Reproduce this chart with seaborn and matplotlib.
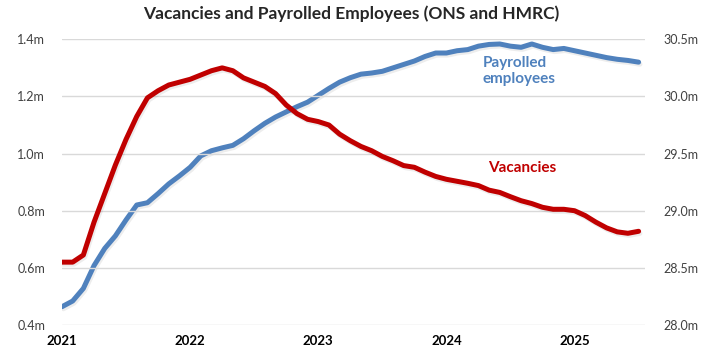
import pandas as pd
import matplotlib.pyplot as plt
import matplotlib.patheffects as pe
import seaborn as sns
import numpy as np

# Monthly data, Jan 2021 - Jul 2025
vacancies_m = [0.62, 0.62, 0.645, 0.76, 0.86, 0.96, 1.05, 1.13, 1.195, 1.22,
               1.24, 1.25, 1.26, 1.275, 1.29, 1.30, 1.29, 1.265, 1.25, 1.235,
               1.21, 1.17, 1.14, 1.12, 1.112, 1.10, 1.068, 1.045, 1.025, 1.01,
               0.99, 0.975, 0.958, 0.952, 0.935, 0.92, 0.91, 0.903, 0.896, 0.888,
               0.872, 0.864, 0.849, 0.835, 0.825, 0.812, 0.805, 0.805, 0.80, 0.783,
               0.76, 0.74, 0.726, 0.721, 0.728]
payrolled_m = [28.16, 28.21, 28.32, 28.52, 28.67, 28.78, 28.92, 29.05, 29.07, 29.15,
               29.235, 29.305, 29.38, 29.48, 29.525, 29.55, 29.572, 29.63, 29.70, 29.765,
               29.82, 29.865, 29.91, 29.95, 30.01, 30.07, 30.125, 30.164, 30.195, 30.205,
               30.22, 30.25, 30.28, 30.31, 30.35, 30.38, 30.38, 30.40, 30.41, 30.44,
               30.455, 30.459, 30.44, 30.43, 30.459, 30.43, 30.41, 30.42, 30.40, 30.38,
               30.36, 30.34, 30.325, 30.315, 30.30]
years = [2021, 2022, 2023, 2024, 2025]
left_ticks = [0.4, 0.6, 0.8, 1.0, 1.2, 1.4]
right_ticks = [28.0, 28.5, 29.0, 29.5, 30.0, 30.5]

df = pd.DataFrame({
    'month': np.arange(len(vacancies_m)),
    'vacancies': vacancies_m,
    'payrolled': payrolled_m,
})

sns.set_style('white')
plt.rcParams['font.family'] = ['Lato', 'DejaVu Sans']

red = '#C00000'
blue = '#4F81BD'
grey = '#404040'
shadow = [pe.SimpleLineShadow(offset=(1.0, -1.5), shadow_color='black', alpha=0.07), pe.Normal()]

fig = plt.figure(figsize=(7.1, 3.64), dpi=100)
ax = fig.add_axes([62 / 710, 1 - 325 / 364, 583 / 710, 285.7 / 364])
ax2 = ax.twinx()

sns.lineplot(data=df, x='month', y='vacancies', ax=ax, color=red, lw=3.6,
             path_effects=shadow, solid_capstyle='round', solid_joinstyle='round', zorder=3)
sns.lineplot(data=df, x='month', y='payrolled', ax=ax2, color=blue, lw=3.6,
             path_effects=shadow, solid_capstyle='round', solid_joinstyle='round', zorder=3)

ax.set_xlim(0, 54.6)
ax.set_ylim(0.4, 1.4)
ax2.set_ylim(28.0, 30.5)

ax.set_yticks(left_ticks)
ax.set_yticklabels([f'{v:.1f}m' for v in left_ticks])
ax2.set_yticks(right_ticks)
ax2.set_yticklabels([f'{v:.1f}m' for v in right_ticks])
ax.set_xticks([(y - 2021) * 12 for y in years])
ax.set_xticklabels([str(y) for y in years], fontweight='bold')

ax.grid(axis='y', color='#D9D9D9', lw=1)
ax.set_axisbelow(True)
ax.set_zorder(ax2.get_zorder() + 1)
ax.patch.set_visible(False)

for a in (ax, ax2):
    for s in a.spines.values():
        s.set_visible(False)
    a.set_xlabel('')
    a.set_ylabel('')

ax.tick_params(axis='y', length=0, pad=12, labelsize=9, labelcolor=grey)
ax2.tick_params(axis='y', length=0, pad=13, labelsize=9, labelcolor=grey)
ax.tick_params(axis='x', length=0, pad=7, labelsize=9.5, labelcolor='black')

ax.text(0.722, 0.889, 'Payrolled\nemployees', transform=ax.transAxes,
        color=blue, fontsize=11, fontweight='bold', ha='left', va='center',
        linespacing=1.15)
ax.text(0.731, 0.55, 'Vacancies', transform=ax.transAxes,
        color=red, fontsize=11, fontweight='bold', ha='left', va='center')

fig.suptitle('Vacancies and Payrolled Employees (ONS and HMRC)', x=0.494, y=0.985,
             fontsize=12.5, fontweight='bold', va='top')

fig.savefig('out.png', dpi=100)
